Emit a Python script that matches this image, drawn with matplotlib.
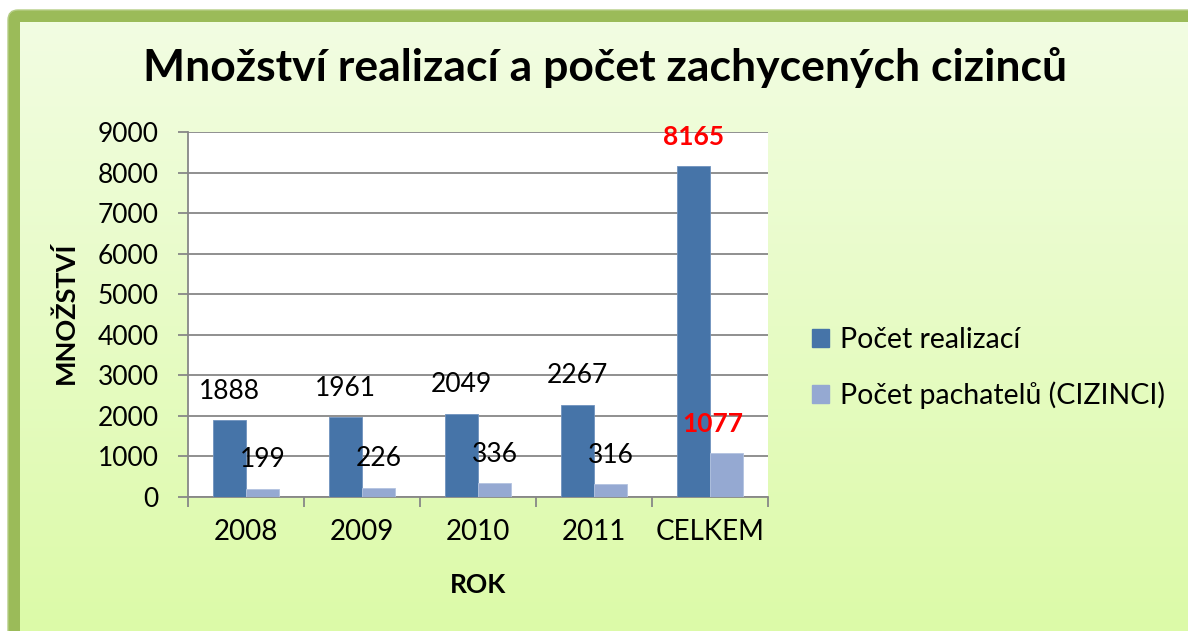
import matplotlib.pyplot as plt
import numpy as np
from matplotlib.patches import FancyBboxPatch, Patch

categories = ["2008", "2009", "2010", "2011", "CELKEM"]
realizace = [1888, 1961, 2049, 2267, 8165]
pachatele = [199, 226, 336, 316, 1077]
series_names = ["Počet realizací", "Počet pachatelů (CIZINCI)"]
y_ticks = [0, 1000, 2000, 3000, 4000, 5000, 6000, 7000, 8000, 9000]

DARK = "#4674A8"
LIGHT = "#95A9D2"
GRID = "#878787"


def draw_background(fig):
    """Green rounded frame with a vertical light-green gradient."""
    bg = fig.add_axes([0, 0, 1, 1], zorder=-10)
    bg.axis("off")
    frame = FancyBboxPatch((8, 10), 1250, 700, boxstyle="round,pad=0,rounding_size=10",
                           facecolor="#9BBB59", edgecolor="#B5CD85", linewidth=1, zorder=1)
    bg.add_patch(frame)
    top = np.array([242, 253, 226]) / 255
    bottom = np.array([220, 250, 168]) / 255
    t = np.linspace(0, 1, 256)[:, None, None]
    grad = top * (1 - t) + bottom * t
    grad = np.repeat(grad, 2, axis=1)
    bg.imshow(grad, extent=(20, 1188, 631, 22), aspect="auto", interpolation="bilinear", zorder=2)
    bg.set_xlim(0, 1188)
    bg.set_ylim(631, 0)


def main():
    plt.rcParams.update({"font.family": ["Lato", "DejaVu Sans"], "font.size": 19})

    fig = plt.figure(figsize=(11.88, 6.31), dpi=100)
    fig.patch.set_facecolor("white")
    draw_background(fig)

    ax = fig.add_axes([188 / 1188, 1 - 497 / 631, 580 / 1188, 365 / 631])
    ax.set_facecolor("white")

    x = np.arange(len(categories))
    w = 0.285
    b1 = ax.bar(x - w / 2, realizace, w, color=DARK, edgecolor="#6F92BE", linewidth=0.6, zorder=3)
    b2 = ax.bar(x + w / 2, pachatele, w, color=LIGHT, edgecolor="#B3C3E0", linewidth=0.6, zorder=3)

    # data labels: black for years, bold red for the total
    for i, (r1, r2) in enumerate(zip(b1, b2)):
        total = categories[i] == "CELKEM"
        kw = dict(color="red", fontweight="bold") if total else dict(color="black")
        for rect, val, dx in ((r1, realizace[i], 0), (r2, pachatele[i], -10 if total else 0)):
            ax.annotate(f"{val}", (rect.get_x() + rect.get_width() / 2, val),
                        textcoords="offset points", xytext=(dx, 21), ha="center", va="center",
                        fontsize=19, zorder=5, **kw)

    ax.set_xlim(-0.5, len(categories) - 0.5)
    ax.set_ylim(0, 9000)
    ax.set_yticks(y_ticks)
    ax.set_xticks(x)
    ax.set_xticklabels(categories, fontsize=20)
    ax.set_xticks(np.arange(len(categories) + 1) - 0.5, minor=True)
    ax.tick_params(axis="x", which="major", length=0, pad=16)
    ax.tick_params(axis="x", which="minor", length=7, width=1.3, color=GRID, direction="out")
    ax.tick_params(axis="y", length=7, width=1.3, color=GRID, pad=14)

    ax.yaxis.grid(True, color=GRID, linewidth=1.3, zorder=0)
    ax.set_axisbelow(True)
    for side in ("top", "right"):
        ax.spines[side].set_visible(False)
    for side in ("left", "bottom"):
        ax.spines[side].set_color(GRID)
        ax.spines[side].set_linewidth(1.3)

    fig.text(605 / 1188, 1 - 68 / 631, "Množství realizací a počet zachycených cizinců",
             ha="center", va="center", fontsize=32, fontweight="bold")
    fig.text(65 / 1188, 1 - 313 / 631, "MNOŽSTVÍ", rotation=90, ha="center", va="center",
             fontsize=19.5, fontweight="bold")
    fig.text(478 / 1188, 1 - 585 / 631, "ROK", ha="center", va="center",
             fontsize=19, fontweight="bold")

    handles = [Patch(facecolor=DARK, edgecolor=DARK), Patch(facecolor=LIGHT, edgecolor=LIGHT)]
    fig.legend(handles, series_names, loc="center left", bbox_to_anchor=(812 / 1188, 1 - 368 / 631),
               frameon=False, fontsize=20.5, handlelength=0.6, handleheight=0.6,
               handletextpad=0.4, labelspacing=1.0, borderpad=0, borderaxespad=0)

    fig.savefig("out.png", dpi=100)


if __name__ == "__main__":
    main()
